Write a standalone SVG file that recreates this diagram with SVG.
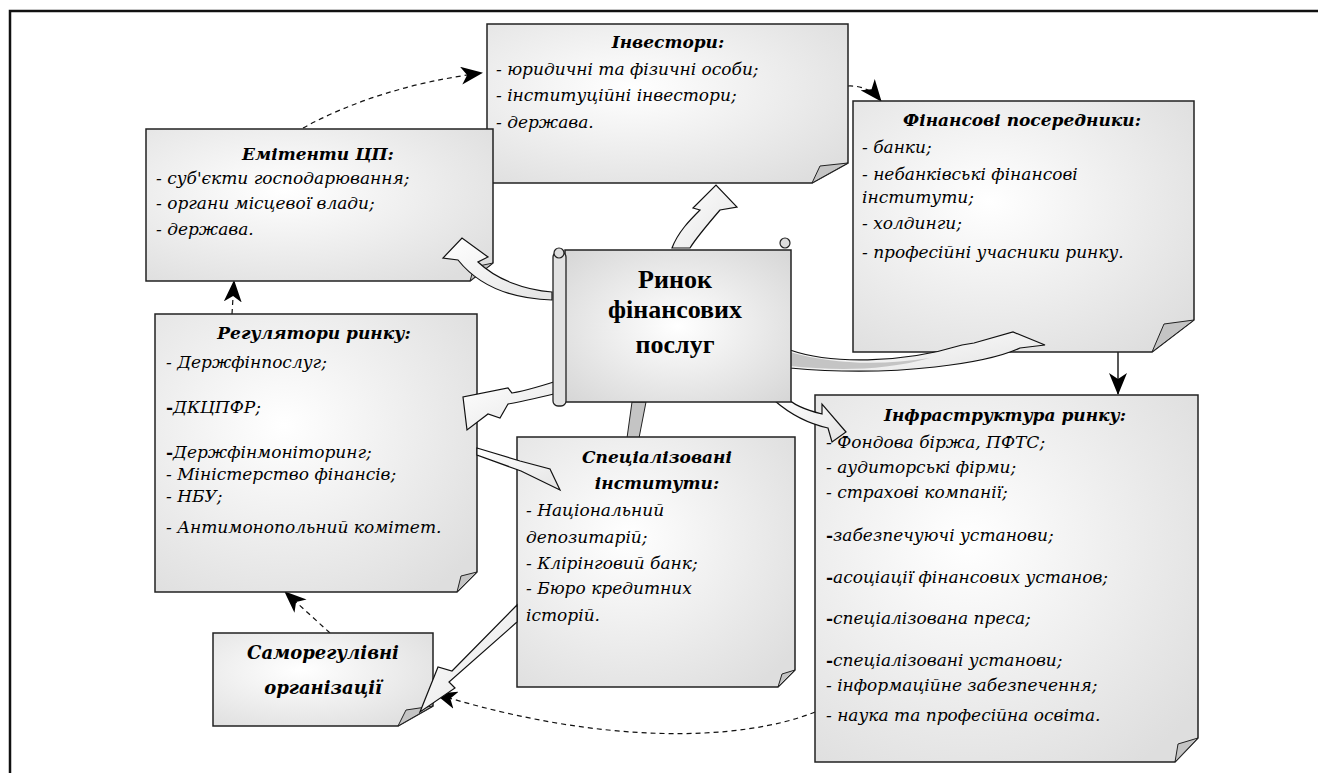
<svg xmlns="http://www.w3.org/2000/svg" width="1328" height="773" viewBox="0 0 1328 773">
<style>
.box{fill:url(#g);stroke:#222;stroke-width:1.5}
.fold{fill:#c4c4c4;stroke:#222;stroke-width:1}
.t{font-family:"DejaVu Serif","Liberation Serif",serif;font-style:italic;font-size:17px;fill:#000}
.h{font-family:"DejaVu Serif","Liberation Serif",serif;font-style:italic;font-weight:bold;font-size:17px;fill:#000;text-anchor:middle}
.c{font-family:"Liberation Serif","DejaVu Serif",serif;font-weight:bold;font-size:26px;fill:#000;text-anchor:middle}
.dash{fill:none;stroke:#111;stroke-width:1.2;stroke-dasharray:5,4}
.solid{fill:none;stroke:#111;stroke-width:1.4}
.blk{fill:url(#ga);stroke:#111;stroke-width:1.2;stroke-linejoin:miter}
.b{font-weight:bold;font-style:normal}
</style>
<defs>
<radialGradient id="g" cx="0.4" cy="0.4" r="0.75">
<stop offset="0" stop-color="#ffffff"/>
<stop offset="1" stop-color="#dedede"/>
</radialGradient>
<radialGradient id="gc" cx="0.5" cy="0.5" r="0.7">
<stop offset="0" stop-color="#ffffff"/>
<stop offset="1" stop-color="#d6d6d6"/>
</radialGradient>
<linearGradient id="ga" x1="0" y1="0" x2="1" y2="1">
<stop offset="0" stop-color="#ffffff"/>
<stop offset="1" stop-color="#e4e4e4"/>
</linearGradient>
<marker id="ahb" viewBox="0 0 22 18" refX="21" refY="9" markerWidth="22" markerHeight="18" markerUnits="userSpaceOnUse" orient="auto">
<path d="M0,0 L22,9 L0,18 L6,9 Z" fill="#000"/>
</marker>
</defs>
<rect x="0" y="0" width="1328" height="773" fill="#fff"/>
<g id="frame">
<path d="M10,773 V11 H1318" fill="none" stroke="#111" stroke-width="2.5"/>
</g>

<g id="connectors">
<path class="dash" d="M303,128 Q380,86 482,73" marker-end="url(#ahb)"/>
<path class="dash" d="M848,86 Q868,85 881,101" marker-end="url(#ahb)"/>
<path class="solid" d="M1118,352 V394" marker-end="url(#ahb)"/>
<path class="dash" d="M815,712 C740,742 600,745 436,694" marker-end="url(#ahb)"/>
<path class="dash" d="M330,633 L285,592" marker-end="url(#ahb)"/>
<path class="dash" d="M232,314 L234,281" marker-end="url(#ahb)"/>
<path class="fold" d="M632,402 L646,402 L639,438 L627,438 Z"/>
</g>

<g id="investors">
<path class="box" d="M487,24 H848 V163 L812,183 H487 Z"/>
<path class="fold" d="M812,183 L820,166 L848,163 Z"/>
<text class="h" x="668" y="48">Інвестори:</text>
<text class="t" x="496" y="75">- юридичні та фізичні особи;</text>
<text class="t" x="496" y="101">- інституційні інвестори;</text>
<text class="t" x="496" y="128">- держава.</text>
</g>

<g id="emitters">
<path class="box" d="M146,129 H493 V263 L470,281 H146 Z"/>
<path class="fold" d="M470,281 L474,267 L493,263 Z"/>
<text class="h" x="318" y="160">Емітенти ЦП:</text>
<text class="t" x="156" y="184">- суб'єкти господарювання;</text>
<text class="t" x="156" y="209">- органи місцевої влади;</text>
<text class="t" x="156" y="235">- держава.</text>
</g>

<g id="fin-intermediaries">
<path class="box" d="M853,101 H1194 V320 L1152,352 H853 Z"/>
<path class="fold" d="M1152,352 L1164,324 L1194,320 Z"/>
<text class="h" x="1022" y="126">Фінансові посередники:</text>
<text class="t" x="862" y="153">- банки;</text>
<text class="t" x="862" y="180">- небанківські фінансові</text>
<text class="t" x="862" y="203">інститути;</text>
<text class="t" x="862" y="229">- холдинги;</text>
<text class="t" x="862" y="258">- професійні учасники ринку.</text>
</g>

<g id="regulators">
<path class="box" d="M155,314 H477 V572 L457,592 H155 Z"/>
<path class="fold" d="M457,592 L461,576 L477,572 Z"/>
<text class="h" x="314" y="339">Регулятори ринку:</text>
<text class="t" x="166" y="368">- Держфінпослуг;</text>
<text class="t" x="166" y="413"><tspan class="b">-</tspan>ДКЦПФР;</text>
<text class="t" x="166" y="458"><tspan class="b">-</tspan>Держфінмоніторинг;</text>
<text class="t" x="166" y="480">- Міністерство фінансів;</text>
<text class="t" x="166" y="502">- НБУ;</text>
<text class="t" x="166" y="533">- Антимонопольний комітет.</text>
</g>

<g id="specialized">
<path class="box" d="M517,437 H795 V670 L778,687 H517 Z"/>
<path class="fold" d="M778,687 L782,674 L795,670 Z"/>
<text class="h" x="657" y="463">Спеціалізовані</text>
<text class="h" x="657" y="489">інститути:</text>
<text class="t" x="526" y="516">- Національний</text>
<text class="t" x="526" y="543">депозитарій;</text>
<text class="t" x="526" y="569">- Клірінговий банк;</text>
<text class="t" x="526" y="594">- Бюро кредитних</text>
<text class="t" x="526" y="621">історій.</text>
</g>

<g id="infrastructure">
<path class="box" d="M815,395 H1198 V738 L1175,762 H815 Z"/>
<path class="fold" d="M1175,762 L1178,744 L1198,738 Z"/>
<text class="h" x="1005" y="421">Інфраструктура ринку:</text>
<text class="t" x="826" y="448">- Фондова біржа, ПФТС;</text>
<text class="t" x="826" y="473">- аудиторські фірми;</text>
<text class="t" x="826" y="498">- страхові компанії;</text>
<text class="t" x="826" y="541"><tspan class="b">-</tspan>забезпечуючі установи;</text>
<text class="t" x="826" y="583"><tspan class="b">-</tspan>асоціації фінансових установ;</text>
<text class="t" x="826" y="624"><tspan class="b">-</tspan>спеціалізована преса;</text>
<text class="t" x="826" y="666"><tspan class="b">-</tspan>спеціалізовані установи;</text>
<text class="t" x="826" y="691">- інформаційне забезпечення;</text>
<text class="t" x="826" y="721">- наука та професійна освіта.</text>
</g>

<g id="self-regulatory">
<path class="box" d="M213,633 H433 V706 L398,726 H213 Z"/>
<path class="fold" d="M398,726 L406,710 L433,706 Z"/>
<text class="h" x="323" y="659" style="font-size:18px">Саморегулівні</text>
<text class="h" x="323" y="694" style="font-size:18px">організації</text>
</g>

<g id="block-arrows">
<path class="blk" d="M552,300 C520,299 482,290 458,260 L443,258 L462,238 L488,257 L478,262 C497,280 525,290 552,292 Z"/>
<path class="blk" d="M672,248 C678,232 690,220 700,210 L693,208 L716,185 L737,207 L720,210 C708,224 696,238 690,248 Z"/>
<path class="blk" d="M790,350 C830,364 900,364 962,345 L974,343 L1013,332 L1045,345 L1020,348 C990,362 900,378 790,368 Z"/>
<path d="M790,352 C830,364 880,366 930,358 C880,372 830,370 790,366 Z" fill="#c4c4c4"/>
<path class="blk" d="M775,401 C790,414 810,424 828,428 L832,442 L846,432 L822,404 L822,414 C806,410 792,404 786,397 Z"/>
<path class="blk" d="M566,378 C548,384 530,390 512,393 L508,388 L463,397 L467,430 L488,414 L500,418 L508,404 C530,400 550,395 566,391 Z"/>
<path class="blk" d="M477,448 L520,461 L550,469 L560,490 L521,471 L477,455 Z"/>
<path class="blk" d="M517,605 L452,671 L438,667 L420,712 L455,688 L449,682 L517,622 Z"/>
</g>

<g id="center">
<rect x="565" y="250" width="226" height="152" fill="url(#gc)" stroke="#222" stroke-width="1.5"/>
<rect x="553" y="252" width="13" height="154" rx="5" fill="#e2e2e2" stroke="#222" stroke-width="1.3"/>
<circle cx="559" cy="253" r="5" fill="#ddd" stroke="#222" stroke-width="1.2"/>
<circle cx="785" cy="243" r="5" fill="#ddd" stroke="#222" stroke-width="1.2"/>
<text class="c" x="675" y="288">Ринок</text>
<text class="c" x="675" y="318">фінансових</text>
<text class="c" x="675" y="353">послуг</text>
</g>
</svg>
